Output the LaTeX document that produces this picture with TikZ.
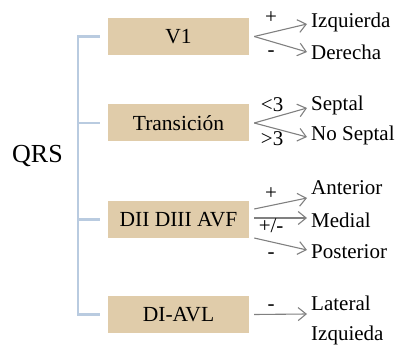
\documentclass[tikz,border=0pt]{standalone}
\usepackage{fontspec}
\setmainfont{Liberation Serif}
\usetikzlibrary{arrows.meta}

\definecolor{leadtan}{HTML}{E0CCAA}
\definecolor{bracketblue}{HTML}{B9CBE0}
\definecolor{arrowgray}{HTML}{808080}

\tikzset{
  lead/.style={fill=leadtan, minimum width=141pt, minimum height=37pt, inner sep=0pt, font=\fontsize{21.5}{24}\selectfont},
  result/.style={anchor=west, inner xsep=4pt, inner ysep=0pt, font=\fontsize{21}{24}\selectfont},
  branch/.style={draw=arrowgray, line width=1.1pt, -{Straight Barb[length=8pt,width=13pt]}},
  sign/.style={font=\fontsize{21}{24}\selectfont, inner sep=0pt, text height=11pt, text depth=0pt},
  bracket/.style={draw=bracketblue, line width=2.5pt}
}

\begin{document}
\begin{tikzpicture}[x=1pt,y=-1pt]
\useasboundingbox (0,0) rectangle (405,345);
% root and leads
\node[font=\fontsize{26}{30}\selectfont, inner sep=0pt] (qrs) at (37.5,156) {QRS};
\node[lead] (v1) at (178.5,36.5) {V1};
\node[lead] (tra) at (178.5,123) {Transición};
\node[lead] (dii) at (178.5,219.5) {DII DIII AVF};
\node[lead] (avl) at (178.5,314.5) {DI-AVL};
\draw[bracket] ([xshift=-8pt]v1.west) -- ++(-22,0) |- ([xshift=-8pt]avl.west);
\draw[bracket] ([xshift=-8pt]tra.west) -- ++(-22,0);
\draw[bracket] ([xshift=-8pt]dii.west) -- ++(-22,0);
% results
\node[result] (izq) at (307,22) {Izquierda};
\node[result] (der) at (307,52) {Derecha};
\node[result] (sep) at (307,105) {Septal};
\node[result] (nosep) at (307,135) {No Septal};
\node[result] (ant) at (307,188) {Anterior};
\node[result] (med) at (307,220) {Medial};
\node[result] (pos) at (307,252) {Posterior};
\node[result] (lat) at (307,303) {Lateral};
\node[result] (lzq) at (307,335) {Izquieda};
% branches
\coordinate (v1o) at ([xshift=5pt]v1.east);
\draw[branch] (v1o) -- ([yshift=-2pt]izq.west) node[sign,pos=0.32,above=8pt] {+};
\draw[branch] (v1o) -- (der.west) node[sign,pos=0.32,below=3pt] {-};
\coordinate (trao) at ([xshift=5pt]tra.east);
\draw[branch] (trao) -- ([yshift=-3pt]sep.west) node[sign,pos=0.34,above=6pt] {<3};
\draw[branch] (trao) -- ([yshift=-2pt]nosep.west) node[sign,pos=0.34,below=6pt] {>3};
\coordinate (diia) at ([xshift=5pt,yshift=10.5pt]dii.east);
\coordinate (diim) at ([xshift=5pt,yshift=1.5pt]dii.east);
\coordinate (diip) at ([xshift=5pt,yshift=-18.5pt]dii.east);
\draw[branch] (diia) -- ([yshift=-10pt]ant.west) node[sign,pos=0.32,above=5pt] {+};
\draw[branch] (diim) -- ([yshift=2pt]med.west) node[sign,pos=0.32,below=2.5pt] {+/-};
\draw[branch] (diip) -- ([yshift=2pt]pos.west) node[sign,pos=0.32,below=5.5pt] {-};
\coordinate (avlo) at ([xshift=5pt]avl.east);
\coordinate (late) at (307,314);
\draw[branch] (avlo) -- (late) node[sign,pos=0.32,above=3.5pt] {-};
\end{tikzpicture}
\end{document}
